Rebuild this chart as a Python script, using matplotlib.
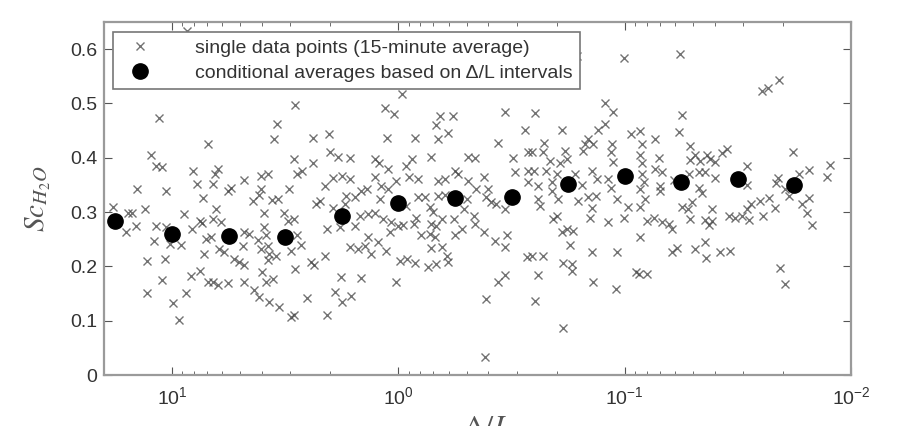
import numpy as np
import matplotlib
matplotlib.use("Agg")
import matplotlib.pyplot as plt

# ── data (x axis is log10 of -Δ/L) ───────────────────────────────────────
# single 15-minute points: exponent of -Δ/L and Sc_H2O
scatter_logx = [
    # 10^1.3 .. 10^0.83
    0.934, 1.057, 0.84, 1.094, 1.069, 1.043, 0.906, 0.888, 1.157, 1.025, 0.863,
    1.263, 1.193, 1.178, 1.121, 0.947, 0.876, 0.869, 1.160, 1.069, 1.028, 1.204,
    0.910, 1.082, 0.962, 1.009, 0.851, 0.859, 1.109, 1.031, 0.876, 0.918, 1.043,
    0.84, 1.109, 0.940, 0.996, 0.969,
    # 10^0.83 .. 10^0.36
    0.457, 0.538, 0.551, 0.379, 0.46, 0.379, 0.424, 0.449, 0.796, 0.810, 0.607,
    0.575, 0.681, 0.821, 0.740, 0.754, 0.607, 0.482, 0.615, 0.644, 0.56, 0.534,
    0.365, 0.806, 0.593, 0.504, 0.821, 0.784, 0.49, 0.463, 0.593, 0.681, 0.659,
    0.446, 0.828, 0.585, 0.431, 0.622, 0.685, 0.578, 0.791, 0.769, 0.607, 0.571,
    0.541, 0.475, 0.728, 0.703, 0.681, 0.578, 0.387, 0.372, 0.457, 0.603, 0.821,
    0.799, 0.754, 0.681, 0.585, 0.552, 0.637, 0.615, 0.571, 0.526, 0.404, 0.475,
    0.46,
    # 10^0.36 .. 10^-0.12
    -0.016, 0.061, 0.02, 0.306, 0.051, -0.072, 0.301, 0.267, 0.215, 0.105, -0.061,
    -0.035, 0.086, 0.046, 0.289, 0.249, 0.215, 0.105, -0.049, -0.086, 0.009, 0.326,
    0.075, 0.046, 0.164, 0.137, 0.348, 0.23, 0.193, 0.083, -0.086, 0.289, 0.237,
    -0.035, 0.171, 0.134, 0.105, 0.068, 0.031, 0.002, -0.02, -0.079, -0.071, 0.314,
    0.259, 0.193, 0.039, -0.101, 0.134, 0.215, 0.178, 0.149, 0.09, 0.12, 0.054,
    0.326, -0.005, -0.039, -0.074, 0.255, 0.167, 0.01, 0.281, 0.248, 0.208, 0.314,
    # 10^-0.12 .. 10^-0.59
    -0.47, -0.183, -0.168, -0.242, -0.176, -0.22, -0.558, -0.44, -0.143, -0.308,
    -0.338, -0.507, -0.573, -0.517, -0.573, -0.249, -0.264, -0.173, -0.205, -0.308,
    -0.379, -0.345, -0.396, -0.573, -0.176, -0.205, -0.301, -0.389, -0.411, -0.433,
    -0.117, -0.139, -0.154, -0.29, -0.47, -0.335, -0.246, -0.191, -0.146, -0.168,
    -0.338, -0.279, -0.379, -0.139, -0.161, -0.252, -0.482, -0.426, -0.47, -0.146,
    -0.191, -0.213, -0.22, -0.168, -0.132, -0.57, -0.47, -0.441, -0.385, -0.382,
    # 10^-0.59 .. 10^-1.06
    -0.788, -0.996, -0.915, -0.949, -0.604, -0.724, -0.913, -0.88, -0.839, -1.027,
    -0.645, -0.64, -0.824, -0.861, -0.942, -0.736, -0.817, -0.589, -0.938, -0.67,
    -0.714, -0.743, -0.949, -0.601, -0.651, -0.78, -0.854, -0.699, -0.615, -0.677,
    -0.81, -0.876, -0.927, -0.939, -0.68, -0.618, -0.795, -0.836, -0.871, -0.964,
    -0.626, -0.707, -1.016, -0.854, -0.846, -0.699, -0.685, -0.927, -0.999, -0.721,
    -0.743, -0.773, -0.758, -0.854, -0.967, -0.64, -0.589, -0.729, -0.765, -0.765,
    -1.048, -0.615, -0.861, -0.96, -0.604, -0.729,
    # 10^-1.06 .. 10^-1.53
    -1.243, -1.253, -1.238, -1.069, -1.136, -1.077, -1.29, -1.452, -1.43, -1.312,
    -1.363, -1.153, -1.29, -1.334, -1.378, -1.397, -1.077, -1.069, -1.136, -1.165,
    -1.077, -1.283, -1.327, -1.356, -1.4, -1.216, -1.084, -1.158, -1.327, -1.069,
    -1.091, -1.158, -1.342, -1.297, -1.253, -1.28, -1.386, -1.069, -1.459, -1.488,
    -1.518, -1.128, -1.099, -1.165, -1.194, -1.209, -1.29, -1.356, -1.386, -1.371,
    -1.069, -1.356, -1.231, -1.209, -1.312, -1.419, -1.466, -1.359, -1.099, -1.062,
    # 10^-1.53 .. 10^-2
    -1.608, -1.634, -1.681, -1.744, -1.541, -1.541, -1.677, -1.669, -1.769, -1.813,
    -1.909, -1.894, -1.71, -1.725, -1.556, -1.6, -1.637, -1.541, -1.666, -1.813,
    -1.784, -1.806, -1.549, -1.61, -1.828, -1.688, -1.71,
]
scatter_sc = [
    0.633, 0.473, 0.425, 0.405, 0.385, 0.383, 0.376, 0.352, 0.342, 0.338, 0.326,
    0.310, 0.298, 0.299, 0.306, 0.296, 0.284, 0.280, 0.275, 0.275, 0.273, 0.263,
    0.268, 0.247, 0.240, 0.241, 0.251, 0.223, 0.210, 0.214, 0.192, 0.183, 0.175,
    0.171, 0.151, 0.151, 0.133, 0.102,
    0.497, 0.463, 0.434, 0.437, 0.397, 0.391, 0.376, 0.370, 0.379, 0.370, 0.367,
    0.371, 0.359, 0.351, 0.345, 0.339, 0.342, 0.342, 0.331, 0.321, 0.323, 0.324,
    0.315, 0.306, 0.298, 0.299, 0.287, 0.282, 0.284, 0.288, 0.272, 0.263, 0.260,
    0.257, 0.254, 0.257, 0.240, 0.249, 0.238, 0.238, 0.232, 0.226, 0.232, 0.223,
    0.220, 0.229, 0.214, 0.208, 0.202, 0.212, 0.208, 0.202, 0.196, 0.189, 0.171,
    0.166, 0.170, 0.171, 0.172, 0.176, 0.156, 0.143, 0.134, 0.126, 0.142, 0.107,
    0.110,
    0.517, 0.492, 0.481, 0.443, 0.437, 0.437, 0.411, 0.402, 0.400, 0.397, 0.397,
    0.385, 0.390, 0.379, 0.362, 0.366, 0.361, 0.364, 0.364, 0.361, 0.358, 0.348,
    0.348, 0.342, 0.338, 0.342, 0.321, 0.330, 0.327, 0.324, 0.327, 0.307, 0.315,
    0.312, 0.293, 0.296, 0.299, 0.287, 0.281, 0.275, 0.277, 0.290, 0.278, 0.269,
    0.272, 0.275, 0.264, 0.257, 0.254, 0.236, 0.232, 0.238, 0.244, 0.223, 0.228,
    0.220, 0.210, 0.214, 0.207, 0.180, 0.178, 0.172, 0.153, 0.134, 0.145, 0.111,
    0.484, 0.476, 0.460, 0.477, 0.434, 0.445, 0.452, 0.427, 0.402, 0.402,
    0.399, 0.399, 0.411, 0.373, 0.376, 0.376, 0.370, 0.358, 0.361, 0.358,
    0.364, 0.342, 0.342, 0.355, 0.330, 0.331, 0.324, 0.327, 0.318, 0.314,
    0.327, 0.309, 0.300, 0.306, 0.306, 0.293, 0.288, 0.287, 0.278, 0.275,
    0.278, 0.269, 0.263, 0.260, 0.254, 0.257, 0.258, 0.246, 0.235, 0.233,
    0.235, 0.220, 0.208, 0.205, 0.199, 0.218, 0.185, 0.171, 0.140, 0.033,
    0.587, 0.584, 0.501, 0.484, 0.482, 0.451, 0.463, 0.452, 0.434, 0.443,
    0.428, 0.411, 0.425, 0.425, 0.425, 0.413, 0.413, 0.411, 0.411, 0.394,
    0.391, 0.397, 0.392, 0.376, 0.376, 0.370, 0.376, 0.370, 0.348, 0.355,
    0.350, 0.361, 0.361, 0.345, 0.339, 0.324, 0.321, 0.327, 0.330, 0.324,
    0.312, 0.324, 0.309, 0.307, 0.290, 0.293, 0.287, 0.281, 0.290, 0.263,
    0.269, 0.266, 0.240, 0.226, 0.226, 0.220, 0.220, 0.207, 0.205, 0.191,
    0.189, 0.185, 0.172, 0.159, 0.136, 0.087,
    0.591, 0.478, 0.447, 0.449, 0.434, 0.425, 0.421, 0.417, 0.408, 0.406,
    0.406, 0.400, 0.395, 0.394, 0.397, 0.392, 0.391, 0.406, 0.379, 0.373,
    0.370, 0.370, 0.373, 0.373, 0.362, 0.359, 0.355, 0.348, 0.345, 0.342,
    0.324, 0.339, 0.336, 0.318, 0.309, 0.306, 0.306, 0.309, 0.292, 0.290,
    0.293, 0.290, 0.284, 0.281, 0.278, 0.269, 0.287, 0.286, 0.284, 0.277,
    0.254, 0.244, 0.234, 0.226, 0.232, 0.226, 0.228, 0.215, 0.186, 0.186,
    0.523, 0.529, 0.544, 0.411, 0.385, 0.350, 0.362, 0.353, 0.371, 0.378,
    0.386, 0.364, 0.342, 0.330, 0.315, 0.320, 0.325, 0.306, 0.307, 0.326,
    0.315, 0.299, 0.286, 0.292, 0.276, 0.197, 0.167,
]

# conditional averages over -Δ/L intervals
avg_dl = [17.8, 10.0, 5.62, 3.16, 1.78, 1.0, 0.562, 0.316, 0.178, 0.1, 0.0562, 0.0316, 0.0178]
avg_sc = [0.284, 0.259, 0.256, 0.254, 0.292, 0.317, 0.326, 0.327, 0.352, 0.367, 0.355, 0.361, 0.350]

# ── estilo ───────────────────────────────────────────────────────────────
plt.rcParams['font.family'] = ['Liberation Sans', 'DejaVu Sans']
plt.rcParams['mathtext.fontset'] = 'custom'
plt.rcParams['mathtext.rm'] = 'Liberation Sans'
plt.rcParams['mathtext.it'] = 'Liberation Sans:italic'
plt.rcParams['mathtext.bf'] = 'Liberation Sans:bold'

text_col = '#333333'
frame_col = '#9a9a9a'

fig = plt.figure(figsize=(9.01, 4.26), dpi=100)
ax = fig.add_axes([0.1154, 0.1197, 0.8291, 0.8287])

dl = 10 ** np.array(scatter_logx)
ax.plot(dl, scatter_sc, 'x', color='#444444', ms=6, mew=1.0, alpha=0.75,
        label='single data points (15-minute average)')
ax.plot(avg_dl, avg_sc, 'o', color='black', ms=11,
        label='conditional averages based on \u0394/L intervals')

ax.set_xscale('log')
ax.set_xlim(20, 0.01)
ax.set_ylim(0, 0.65)
ax.set_yticks([0, 0.1, 0.2, 0.3, 0.4, 0.5, 0.6])
ax.set_yticklabels(['0', '0.1', '0.2', '0.3', '0.4', '0.5', '0.6'])

ax.tick_params(which='both', direction='in', top=True, right=True,
               color='#555555', labelcolor=text_col, labelsize=14)
ax.tick_params(axis='x', which='major', length=6, pad=8)
ax.tick_params(axis='x', which='minor', length=3)
ax.tick_params(axis='y', which='major', length=6, pad=5)
for s in ax.spines.values():
    s.set_color(frame_col)
    s.set_linewidth(1.6)

ax.set_ylabel(r'$Sc_{H_2O}$', math_fontfamily='stix', fontsize=21, color='#555555')
ax.yaxis.set_label_coords(-0.068, 0.5)
ax.set_xlabel(r'$-\Delta/L$', math_fontfamily='stix', fontsize=21, color='#555555')
ax.xaxis.set_label_coords(0.5, -0.108)

leg = ax.legend(loc='upper left', bbox_to_anchor=(0.012, 0.972), borderaxespad=0,
                fontsize=14, frameon=True, fancybox=False, framealpha=1,
                edgecolor='#777777', handletextpad=1.8, borderpad=0.4,
                labelspacing=0.35, handlelength=2.0)
leg.get_frame().set_linewidth(1.2)
for t in leg.get_texts():
    t.set_color(text_col)

fig.savefig('out.png', dpi=100)
